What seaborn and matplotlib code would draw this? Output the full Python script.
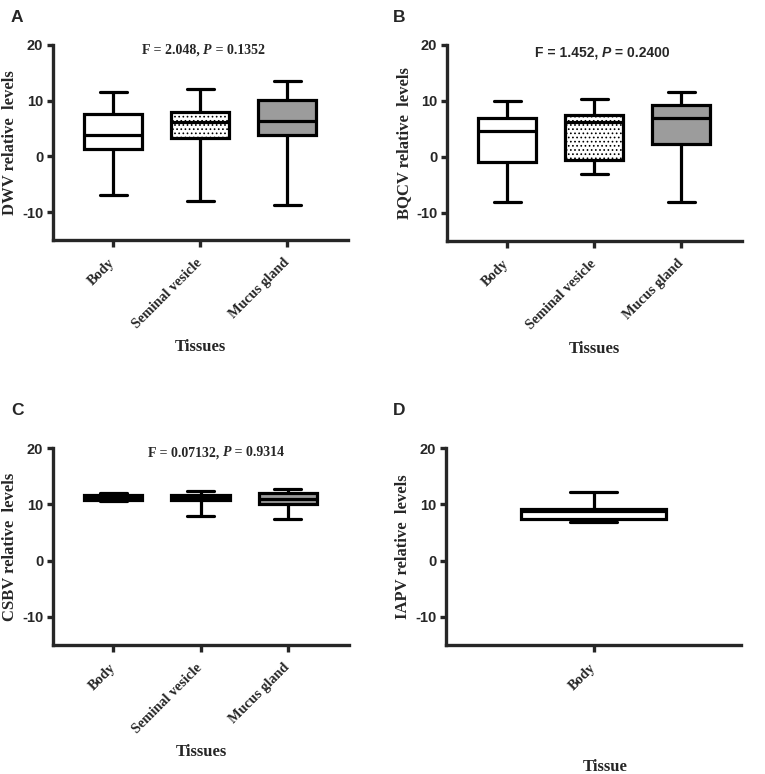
import matplotlib
matplotlib.use("Agg")
import matplotlib.pyplot as plt
import seaborn as sns
import pandas as pd
import numpy as np

# ---------------- data (five-number summaries) ----------------
tissues = ["Body", "Seminal vesicle", "Mucus gland"]

# each list: [min, Q1, median, Q3, max]
dwv_body = [-7.0, 1.25, 3.8, 7.7, 11.6]
dwv_sv = [-8.0, 3.3, 6.1, 8.0, 12.1]
dwv_mg = [-8.8, 3.8, 6.4, 10.2, 13.6]

bqcv_body = [-8.1, -0.9, 4.6, 7.0, 10.0]
bqcv_sv = [-3.0, -0.5, 6.2, 7.5, 10.3]
bqcv_mg = [-8.1, 2.3, 7.0, 9.3, 11.6]

csbv_body = [10.5, 10.7, 11.1, 11.6, 12.0]
csbv_sv = [8.0, 10.7, 11.1, 11.6, 12.4]
csbv_mg = [7.4, 10.0, 11.0, 12.0, 12.8]

iapv_body = [6.8, 7.3, 8.85, 9.2, 12.2]

stats_A = ["F = 2.048, ", "P", " = 0.1352"]
stats_B = ["F = 1.452, ", "P", " = 0.2400"]
stats_C = ["F = 0.07132, ", "P", " = 0.9314"]

yticks = [-10, 0, 10, 20]

colors = {"Body": "white", "Seminal vesicle": "white", "Mucus gland": "#9c9c9c"}

SERIF = "Liberation Serif"
SANS = "Liberation Sans"

sns.set_style("ticks")
plt.rcParams["hatch.color"] = "#777777"
plt.rcParams["hatch.linewidth"] = 0.7
plt.rcParams["axes.unicode_minus"] = False

W, H = 765, 774
fig = plt.figure(figsize=(W / 100, H / 100), dpi=100)


def axes_px(left, right, top, bottom):
    return fig.add_axes([left / W, 1 - bottom / H, (right - left) / W, (bottom - top) / H])


def make_df(groups, names):
    rows = []
    for name, vals in zip(names, groups):
        for v in vals:
            rows.append({"tissue": name, "value": v})
    return pd.DataFrame(rows)


def draw_panel(ax, groups, names, ylabel, xlabel, xlabel_pos, width, capw, xlim, stats=None,
               stats_xy=None, stats_family=SERIF):
    df = make_df(groups, names)
    sns.boxplot(data=df, x="tissue", y="value", hue="tissue", order=names,
                palette={n: colors[n] for n in names}, saturation=1, legend=False,
                whis=(0, 100), width=width, linecolor="black", linewidth=2.3,
                capwidths=capw, ax=ax)
    if "Seminal vesicle" in names:
        idx = names.index("Seminal vesicle")
        ax.patches[idx].set_hatch("....")
    ax.set_ylim(-15, 20)
    ax.set_xlim(*xlim)
    ax.set_yticks(yticks)
    sns.despine(ax=ax)
    for s in ("left", "bottom"):
        ax.spines[s].set_linewidth(2.4)
    ax.tick_params(axis="y", length=4, width=2.4, pad=3)
    ax.tick_params(axis="x", length=5, width=2.4, pad=10)
    for lab in ax.get_yticklabels():
        lab.set_fontfamily(SANS)
        lab.set_fontweight("bold")
        lab.set_fontsize(10.5)
    ax.set_xticks(range(len(names)))
    ax.set_xticklabels(names, rotation=45, ha="right", va="center",
                       rotation_mode="anchor", fontfamily=SERIF,
                       fontweight="bold", fontsize=10.3)
    ax.set_ylabel(ylabel, fontfamily=SERIF, fontweight="bold", fontsize=12, labelpad=3)
    ax.set_xlabel(xlabel, fontfamily=SERIF, fontweight="bold", fontsize=12)
    ax.xaxis.set_label_coords(*xlabel_pos)
    if stats is not None:
        t1 = ax.text(stats_xy[0], stats_xy[1], stats[0], transform=ax.transAxes,
                     ha="left", va="baseline", fontfamily=stats_family,
                     fontweight="bold", fontsize=10)
        t2 = ax.annotate(stats[1], xy=(1, 0), xycoords=t1, ha="left", va="bottom",
                         fontfamily=stats_family, fontweight="bold", fontstyle="italic",
                         fontsize=10)
        ax.annotate(stats[2], xy=(1, 0), xycoords=t2, ha="left", va="bottom",
                    fontfamily=stats_family, fontweight="bold", fontsize=10)


axA = axes_px(53, 348, 45, 240)
axB = axes_px(447, 742, 45, 241)
axC = axes_px(53, 349, 448, 645)
axD = axes_px(446, 741, 448, 645)

draw_panel(axA, [dwv_body, dwv_sv, dwv_mg], tissues, "DWV relative  levels", "Tissues",
           (0.5, -0.508), 0.67, 0.31, (-0.69, 2.70), stats_A, (0.302, 0.954), SERIF)
draw_panel(axB, [bqcv_body, bqcv_sv, bqcv_mg], tissues, "BQCV relative  levels", "Tissues",
           (0.5, -0.508), 0.67, 0.31, (-0.69, 2.70), stats_B, (0.298, 0.939), SANS)
draw_panel(axC, [csbv_body, csbv_sv, csbv_mg], tissues, "CSBV relative  levels", "Tissues",
           (0.5, -0.503), 0.67, 0.31, (-0.69, 2.70), stats_C, (0.321, 0.959), SERIF)
draw_panel(axD, [iapv_body], ["Body"], "IAPV relative  levels", "Tissue",
           (0.54, -0.579), 0.49, 0.16, (-0.5, 0.5))

for letter, (x, y) in zip("ABCD", [(11, 10), (393, 10), (11, 403), (393, 403)]):
    fig.text(x / W, 1 - y / H, letter, ha="left", va="top", fontfamily=SANS,
             fontweight="bold", fontsize=12.5)

fig.savefig("out.png", dpi=100)
